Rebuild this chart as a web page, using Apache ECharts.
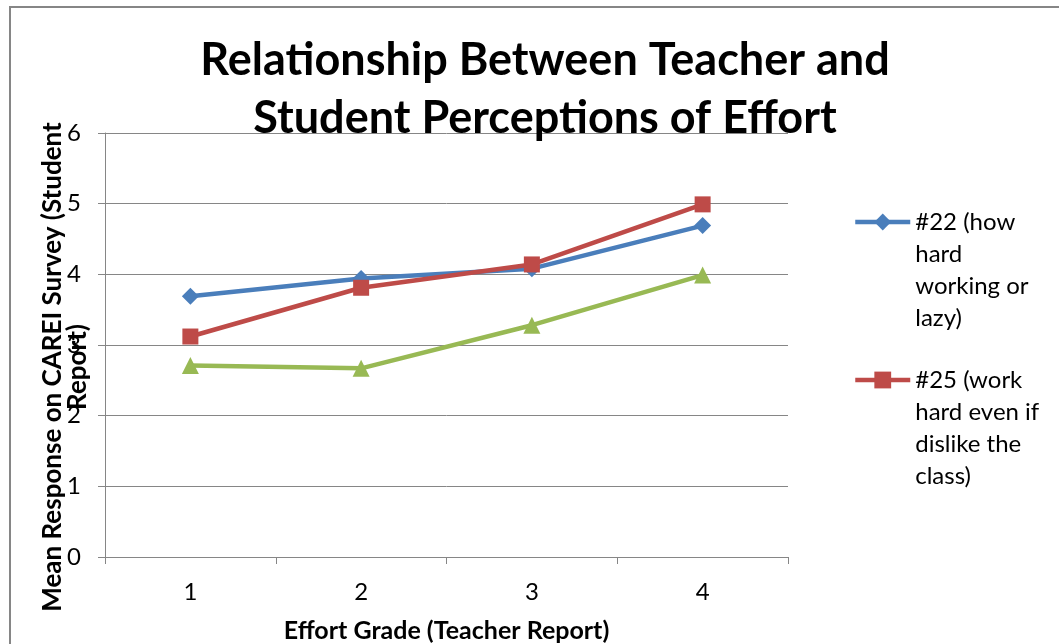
<!DOCTYPE html>
<html>
<head>
<meta charset="utf-8">
<script src="https://cdn.jsdelivr.net/npm/echarts@6/dist/echarts.min.js"></script>
<style>
  html, body { margin: 0; padding: 0; background: #fff; }
  #chart { width: 1059px; height: 644px; }
</style>
</head>
<body>
<div id="chart"></div>
<script>
const grades = ['1', '2', '3', '4']
const q22 = [3.69, 3.94, 4.08, 4.69]
const q25 = [3.12, 3.81, 4.14, 4.99]
const q3 = [2.71, 2.67, 3.28, 3.99]
const seriesNames = ['#22 (how hard working or lazy)', '#25 (work hard even if dislike the class)', 'Series3']
const legendLabels = ['#22 (how\nhard\nworking or\nlazy)', '#25 (work\nhard even if\ndislike the\nclass)']
const colors = ['#4a7ebb', '#be4b48', '#98b954']

const font = 'Lato, "Open Sans", sans-serif'
const gray = '#868686'

// one legend per entry; three blank lines first so the icon lines up with the first text line
const makeLegend = (i, top) => ({
  orient: 'vertical',
  left: 853,
  top: top,
  padding: 0,
  itemWidth: 55,
  itemHeight: 21,
  data: [seriesNames[i]],
  formatter: name => '\n\n\n' + legendLabels[seriesNames.indexOf(name)],
  lineStyle: { width: 4.5 },
  textStyle: { fontSize: 24, lineHeight: 32, color: '#000' }
})

const myChart = echarts.init(document.getElementById('chart'))

myChart.setOption({
  animation: false,
  color: colors,
  textStyle: { fontFamily: font },
  title: {
    text: 'Relationship Between Teacher and\nStudent Perceptions of Effort',
    left: 545,
    textAlign: 'center',
    top: 31,
    padding: 0,
    textStyle: { fontSize: 45, fontWeight: 'bold', color: '#000', lineHeight: 58, fontFamily: font }
  },
  graphic: [{
    type: 'rect',
    shape: { x: 10, y: 7, width: 1100, height: 700 },
    style: { fill: null, stroke: gray, lineWidth: 2 },
    silent: true
  }],
  legend: [makeLegend(0, 110), makeLegend(1, 268)],
  grid: { left: 105, right: 271, top: 133, bottom: 87, outerBoundsMode: 'none' },
  xAxis: {
    type: 'category',
    data: grades,
    boundaryGap: true,
    name: 'Effort Grade (Teacher Report)',
    nameLocation: 'middle',
    nameGap: 61,
    nameTextStyle: { fontSize: 25, fontWeight: 'bold', color: '#000' },
    axisLine: { lineStyle: { color: gray, width: 1 } },
    axisTick: { show: true, length: 7, lineStyle: { color: gray } },
    axisLabel: { fontSize: 24, color: '#000', margin: 23 }
  },
  yAxis: {
    type: 'value',
    min: 0,
    max: 6,
    interval: 1,
    name: 'Mean Response on CAREI Survey (Student\nReport)',
    nameLocation: 'middle',
    nameGap: 15,
    nameMoveOverlap: false,
    nameTextStyle: { fontSize: 26, fontWeight: 'bold', color: '#000', lineHeight: 25, padding: [0, 44, 0, 0] },
    axisLine: { show: true, lineStyle: { color: gray, width: 1 } },
    axisTick: { show: true, length: 7, lineStyle: { color: gray } },
    axisLabel: { fontSize: 24, color: '#000', margin: 24 },
    splitLine: { lineStyle: { color: gray, width: 1 } }
  },
  series: [
    {
      name: seriesNames[0],
      type: 'line',
      data: q22,
      symbol: 'diamond',
      symbolSize: 17,
      lineStyle: { width: 4.5 }
    },
    {
      name: seriesNames[1],
      type: 'line',
      data: q25,
      symbol: 'rect',
      symbolSize: 16,
      lineStyle: { width: 4.5 }
    },
    {
      name: seriesNames[2],
      type: 'line',
      data: q3,
      symbol: 'triangle',
      symbolSize: 17,
      lineStyle: { width: 4.5 }
    }
  ]
})
</script>
</body>
</html>
